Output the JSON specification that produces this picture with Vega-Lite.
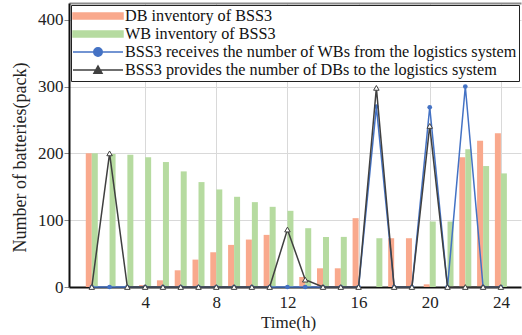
{
  "$schema": "https://vega.github.io/schema/vega-lite/v6.json",
  "width": 452,
  "height": 284,
  "autosize": {"type": "none"},
  "padding": {"left": 69, "top": 3, "right": 1, "bottom": 48},
  "config": {
    "view": {"stroke": null},
    "font": "Liberation Serif",
    "axis": {
      "labelFont": "Liberation Serif",
      "titleFont": "Liberation Serif",
      "labelFontSize": 17,
      "titleFontSize": 17,
      "titleFontWeight": "normal",
      "labelColor": "#222222",
      "titleColor": "#222222",
      "gridColor": "#d9d9d9",
      "gridWidth": 1
    },
    "axisY": {
      "titleFont": "Liberation Serif",
      "titleFontSize": 18,
      "titleX": -49,
      "titleY": 154,
      "titleAngle": 270,
      "titleBaseline": "middle",
      "titleAlign": "center",
      "domainColor": "#111111",
      "domainWidth": 2,
      "tickSize": 5,
      "tickColor": "#888888",
      "labelPadding": 1,
      "labelFlush": false
    },
    "legend": {
      "orient": "top-left",
      "offset": 2,
      "padding": 2,
      "fillColor": "white",
      "strokeColor": "#222222",
      "strokeWidth": 1,
      "labelFont": "Liberation Serif",
      "labelFontSize": 16.2,
      "labelColor": "#111111",
      "labelLimit": 600,
      "symbolSize": 256,
      "symbolStrokeWidth": 1.5,
      "symbolOffset": 0,
      "labelOffset": 34,
      "rowPadding": -1,
      "title": null
    }
  },
  "data": {
    "values": [
      {"hour": 1, "DB": 200, "WB": 200, "recv": 0, "prov": 0},
      {"hour": 2, "DB": 0, "WB": 199, "recv": 0, "prov": 200},
      {"hour": 3, "DB": 0, "WB": 198, "recv": 0, "prov": 0},
      {"hour": 4, "DB": 3, "WB": 194, "recv": 0, "prov": 0},
      {"hour": 5, "DB": 10, "WB": 187, "recv": 0, "prov": 0},
      {"hour": 6, "DB": 25, "WB": 173, "recv": 0, "prov": 0},
      {"hour": 7, "DB": 41, "WB": 157, "recv": 0, "prov": 0},
      {"hour": 8, "DB": 52, "WB": 146, "recv": 0, "prov": 0},
      {"hour": 9, "DB": 63, "WB": 135, "recv": 0, "prov": 0},
      {"hour": 10, "DB": 71, "WB": 127, "recv": 0, "prov": 0},
      {"hour": 11, "DB": 78, "WB": 120, "recv": 0, "prov": 0},
      {"hour": 12, "DB": 0, "WB": 114, "recv": 0, "prov": 86},
      {"hour": 13, "DB": 15, "WB": 88, "recv": 0, "prov": 11},
      {"hour": 14, "DB": 28, "WB": 75, "recv": 0, "prov": 0},
      {"hour": 15, "DB": 28, "WB": 75, "recv": 0, "prov": 0},
      {"hour": 16, "DB": 103, "WB": 0, "recv": 0, "prov": 0},
      {"hour": 17, "DB": 0, "WB": 73, "recv": 270, "prov": 298},
      {"hour": 18, "DB": 73, "WB": 0, "recv": 0, "prov": 0},
      {"hour": 19, "DB": 73, "WB": 0, "recv": 0, "prov": 0},
      {"hour": 20, "DB": 4, "WB": 98, "recv": 269, "prov": 241},
      {"hour": 21, "DB": 0, "WB": 98, "recv": 0, "prov": 0},
      {"hour": 22, "DB": 194, "WB": 206, "recv": 300, "prov": 0},
      {"hour": 23, "DB": 219, "WB": 181, "recv": 0, "prov": 0},
      {"hour": 24, "DB": 230, "WB": 170, "recv": 0, "prov": 0}
    ]
  },
  "layer": [
    {
      "mark": {"type": "bar", "width": 6, "xOffset": -3},
      "encoding": {
        "x": {
          "field": "hour",
          "type": "quantitative",
          "scale": {"domain": [0, 24.85], "nice": false, "zero": false},
          "axis": {
            "values": [4, 8, 12, 16, 20, 24],
            "title": "Time(h)",
            "titleX": 219,
            "titleY": 35,
            "titleBaseline": "middle",
            "titleAlign": "center",
            "domainColor": "#111111",
            "domainWidth": 2,
            "ticks": false,
            "labelPadding": 7,
            "labelFlush": false
          }
        },
        "y": {
          "field": "DB",
          "type": "quantitative",
          "scale": {"domain": [0, 425], "nice": false},
          "axis": {
            "values": [0, 100, 200, 300, 400],
            "title": "Number of batteries(pack)"
          }
        },
        "color": {
          "datum": "DB inventory of BSS3",
          "scale": {
            "domain": [
              "DB inventory of BSS3",
              "WB inventory of BSS3",
              "BSS3 receives the number of WBs from the logistics system",
              "BSS3 provides the number of DBs to the logistics system"
            ],
            "range": ["#F9A98D", "#B6DBA0", "#4472C4", "#404040"]
          },
          "legend": {
            "title": null,
            "encode": {
              "symbols": {
                "update": {
                  "shape": {"signal": "datum.index < 2 ? 'M-1.125,-0.375H5.125V0.375H-1.125Z' : datum.index == 2 ? 'M-1.125,0H5.125M1.47,0A0.53,0.53,0,1,1,2.53,0A0.53,0.53,0,1,1,1.47,0Z' : 'M-1.125,0H1.72M2.28,0H5.125M1.5,0.4L2,-0.5L2.5,0.4Z'"},
                  "fill": {"signal": "datum.index == 0 ? '#F9A98D' : datum.index == 1 ? '#B6DBA0' : datum.index == 2 ? '#4472C4' : 'white'"},
                  "stroke": {"signal": "datum.index < 2 ? 'transparent' : datum.index == 2 ? '#4472C4' : '#404040'"},
                  "strokeWidth": {"value": 1.5},
                  "opacity": {"value": 1}
                }
              }
            }
          }
        }
      }
    },
    {
      "mark": {"type": "bar", "width": 6, "xOffset": 3},
      "encoding": {
        "x": {
          "field": "hour",
          "type": "quantitative",
          "axis": {"orient": "top", "labels": false, "ticks": false, "grid": false, "title": null, "domainColor": "#8c8c8c", "domainWidth": 2}
        },
        "y": {"field": "WB", "type": "quantitative"},
        "color": {"datum": "WB inventory of BSS3"}
      }
    },
    {
      "mark": {"type": "line", "strokeWidth": 1.5, "point": {"shape": "circle", "filled": true, "size": 22}},
      "encoding": {
        "x": {"field": "hour", "type": "quantitative", "axis": null},
        "y": {"field": "recv", "type": "quantitative"},
        "color": {"datum": "BSS3 receives the number of WBs from the logistics system"}
      }
    },
    {
      "mark": {"type": "line", "strokeWidth": 1.5, "point": {"shape": "triangle-up", "filled": false, "fill": "white", "size": 30, "strokeWidth": 1}},
      "encoding": {
        "x": {"field": "hour", "type": "quantitative", "axis": null},
        "y": {"field": "prov", "type": "quantitative"},
        "color": {"datum": "BSS3 provides the number of DBs to the logistics system"}
      }
    }
  ],
  "resolve": {"axis": {"x": "independent"}}
}
